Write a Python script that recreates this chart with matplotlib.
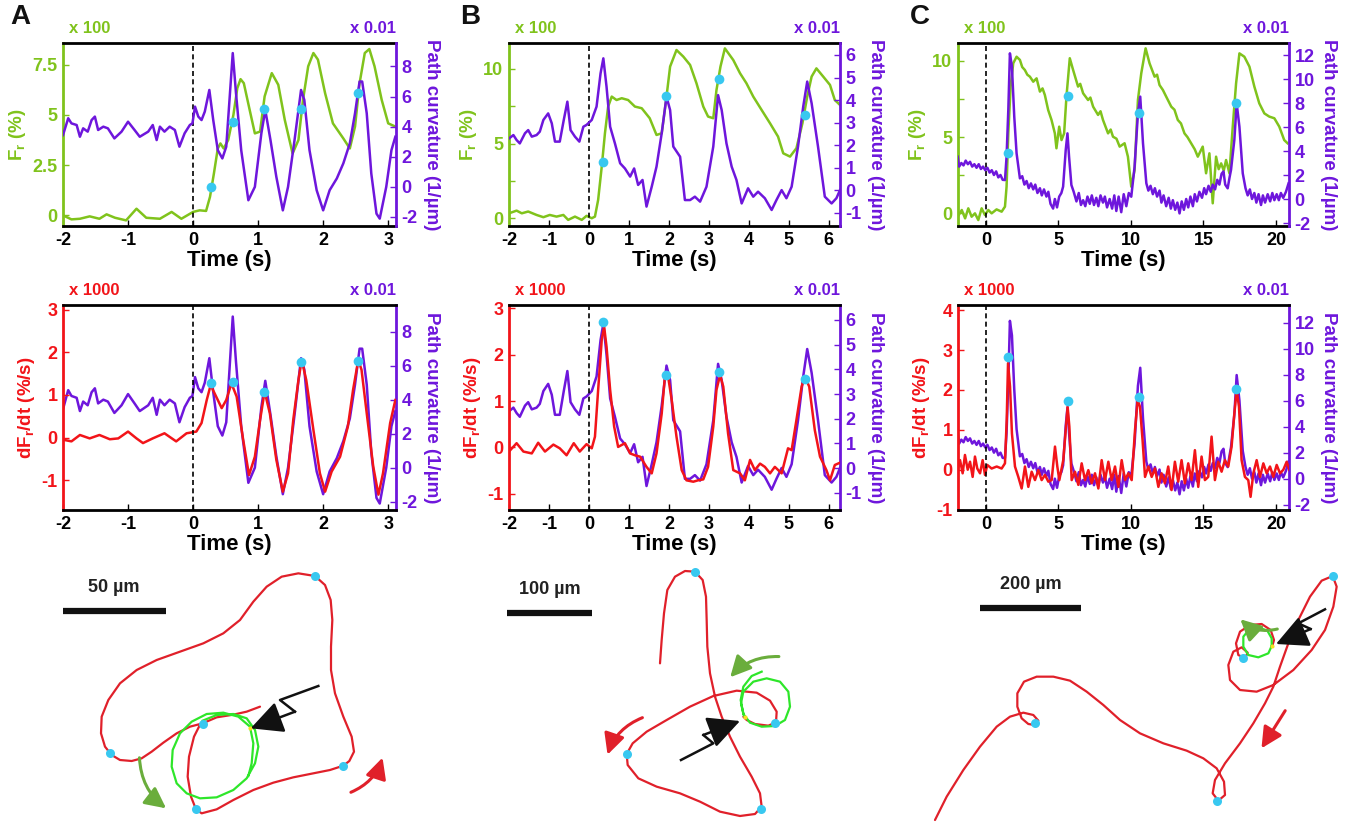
import matplotlib
matplotlib.use('Agg')
import matplotlib.pyplot as plt
from matplotlib.patches import FancyArrowPatch
from matplotlib.ticker import MultipleLocator

plt.rcParams.update({
    'font.family': 'Liberation Sans',
    'font.weight': 'bold',
    'axes.labelweight': 'bold',
    'mathtext.fontset': 'custom',
    'mathtext.rm': 'Liberation Sans:bold',
    'mathtext.it': 'Liberation Sans:bold',
    'mathtext.bf': 'Liberation Sans:bold',
    'mathtext.default': 'bf',
})

GREEN = '#80c31c'
PURPLE = '#6e16dc'
RED = '#f21419'
CYAN = '#38c8f0'
TRACK = '#e0202a'
RING = '#2ee62a'
OLIVE = '#6aad3c'

# ---- A : (time s, value) ----
a_fr = [(-2.0, 0.0), (-1.87, -0.2), (-1.74, -0.17), (-1.59, -0.05), (-1.44, -0.17), (-1.33, 0.05),
        (-1.2, -0.12), (-1.03, -0.25), (-0.87, 0.33), (-0.72, -0.12), (-0.51, -0.17), (-0.33, 0.17),
        (-0.18, -0.17), (0.0, 0.17), (0.1, 0.25), (0.2, 0.22), (0.26, 0.92), (0.32, 2.08), (0.38, 3.33),
        (0.42, 3.58), (0.47, 3.33), (0.54, 3.75), (0.62, 5.0), (0.68, 6.33), (0.73, 6.78), (0.78, 6.58),
        (0.87, 5.25), (0.95, 4.08), (1.03, 4.17), (1.1, 5.92), (1.21, 7.08), (1.31, 6.5), (1.41, 4.75),
        (1.53, 3.08), (1.62, 3.75), (1.69, 5.75), (1.77, 7.42), (1.85, 8.08), (1.92, 7.75), (2.03, 6.08),
        (2.15, 4.58), (2.31, 3.83), (2.41, 3.33), (2.49, 4.42), (2.56, 6.58), (2.64, 8.08), (2.71, 8.28),
        (2.79, 7.42), (2.9, 5.75), (3.0, 4.58), (3.11, 4.42)]
a_curv = [(-2.0, 3.44), (-1.92, 4.56), (-1.87, 4.22), (-1.79, 4.11), (-1.74, 3.33), (-1.69, 3.89),
          (-1.62, 3.67), (-1.56, 4.44), (-1.51, 4.67), (-1.46, 3.78), (-1.38, 4.0), (-1.31, 3.89),
          (-1.21, 3.22), (-1.1, 3.67), (-1.0, 4.33), (-0.9, 3.78), (-0.82, 3.33), (-0.69, 3.67),
          (-0.62, 4.11), (-0.56, 3.11), (-0.51, 4.0), (-0.44, 3.67), (-0.36, 4.0), (-0.28, 3.78),
          (-0.21, 2.67), (-0.13, 3.56), (-0.05, 4.11), (-0.01, 4.22), (0.03, 5.33), (0.08, 4.67),
          (0.13, 4.44), (0.18, 5.0), (0.25, 6.44), (0.31, 4.44), (0.38, 2.44), (0.45, 1.89), (0.51, 2.67),
          (0.56, 5.78), (0.61, 8.89), (0.66, 6.22), (0.74, 2.44), (0.85, -0.89), (0.95, 0.0), (1.05, 3.56),
          (1.11, 5.11), (1.19, 3.11), (1.28, 0.67), (1.38, -1.56), (1.46, 0.0), (1.56, 3.11), (1.66, 6.44),
          (1.71, 5.78), (1.79, 2.44), (1.9, -0.22), (2.0, -1.56), (2.1, -0.22), (2.21, 0.56), (2.31, 1.56),
          (2.41, 2.89), (2.49, 4.89), (2.56, 7.0), (2.6, 7.0), (2.67, 4.89), (2.74, 0.89), (2.82, -1.78),
          (2.87, -2.11), (2.97, 0.0), (3.05, 2.44), (3.11, 3.33)]
a_dfr = [(-2.0, -0.05), (-1.87, -0.09), (-1.74, 0.06), (-1.59, -0.02), (-1.44, 0.06), (-1.28, -0.04),
         (-1.15, -0.02), (-1.0, 0.14), (-0.87, -0.02), (-0.77, -0.13), (-0.62, -0.02), (-0.44, 0.1),
         (-0.26, -0.09), (-0.1, 0.1), (0.05, 0.14), (0.13, 0.34), (0.21, 0.88), (0.27, 1.23), (0.33, 1.04),
         (0.44, 0.69), (0.51, 0.88), (0.59, 1.27), (0.67, 0.96), (0.77, -0.05), (0.86, -0.88), (0.95, -0.45),
         (1.03, 0.41), (1.1, 1.08), (1.18, 0.57), (1.28, -0.52), (1.38, -1.27), (1.46, -0.84), (1.54, 0.41),
         (1.62, 1.35), (1.67, 1.82), (1.74, 1.35), (1.85, 0.18), (1.95, -0.84), (2.03, -1.27), (2.13, -0.8),
         (2.26, -0.45), (2.38, 0.26), (2.46, 1.12), (2.54, 1.82), (2.59, 1.59), (2.67, 0.57), (2.77, -0.68),
         (2.85, -1.34), (2.92, -0.84), (3.03, 0.34), (3.11, 0.88)]
a_dot_t = [0.27, 0.61, 1.09, 1.66, 2.54]
a_dot_fr = [1.42, 4.67, 5.3, 5.3, 6.08]
a_dot_dfr = [1.27, 1.31, 1.08, 1.78, 1.8]

# ---- B ----
b_fr = [(-2.0, 0.33), (-1.81, 0.51), (-1.68, 0.33), (-1.52, 0.45), (-1.31, 0.22), (-1.14, 0.07),
        (-0.98, 0.22), (-0.81, 0.11), (-0.64, 0.22), (-0.52, -0.11), (-0.35, 0.11), (-0.18, -0.11),
        (-0.06, 0.16), (0.07, 0.0), (0.15, 0.11), (0.23, 1.23), (0.32, 3.46), (0.4, 5.69), (0.48, 7.48),
        (0.57, 8.15), (0.69, 7.92), (0.82, 8.04), (0.98, 7.92), (1.15, 7.48), (1.32, 7.37), (1.52, 6.7),
        (1.69, 5.58), (1.82, 5.69), (1.93, 7.92), (2.03, 10.16), (2.19, 11.27), (2.36, 10.83),
        (2.53, 10.27), (2.69, 9.04), (2.86, 7.48), (2.98, 6.81), (3.11, 6.7), (3.19, 8.59), (3.29, 10.16),
        (3.4, 11.38), (3.61, 10.6), (3.78, 9.71), (3.94, 9.04), (4.11, 8.15), (4.32, 7.25), (4.53, 6.36),
        (4.73, 5.47), (4.86, 4.35), (5.03, 4.13), (5.19, 4.69), (5.34, 6.36), (5.46, 8.15), (5.57, 9.49),
        (5.69, 10.04), (5.86, 9.49), (6.03, 8.93), (6.15, 7.92), (6.28, 7.59)]
b_curv = [(-2.0, 2.3), (-1.89, 2.45), (-1.81, 2.23), (-1.73, 2.08), (-1.6, 2.53), (-1.52, 2.67),
          (-1.43, 2.38), (-1.31, 2.45), (-1.23, 2.6), (-1.14, 3.12), (-1.02, 3.41), (-0.93, 2.97),
          (-0.85, 2.16), (-0.73, 2.16), (-0.63, 3.12), (-0.54, 3.93), (-0.46, 2.67), (-0.35, 2.38),
          (-0.24, 2.16), (-0.14, 2.82), (-0.06, 2.9), (0.07, 3.12), (0.19, 3.71), (0.29, 5.18), (0.36, 5.85),
          (0.44, 4.59), (0.53, 2.82), (0.65, 2.08), (0.78, 1.2), (0.9, 0.97), (1.03, 0.61), (1.13, 0.97),
          (1.23, 0.24), (1.34, 0.46), (1.44, -0.72), (1.57, 0.16), (1.69, 1.05), (1.82, 2.53), (1.94, 4.15),
          (2.03, 3.56), (2.11, 1.94), (2.28, 1.49), (2.4, -0.43), (2.53, -0.43), (2.65, -0.28), (2.78, -0.5),
          (2.94, 0.16), (3.11, 1.94), (3.23, 4.22), (3.32, 3.56), (3.44, 2.08), (3.57, 1.05), (3.69, 0.46),
          (3.82, -0.58), (3.98, 0.09), (4.11, -0.28), (4.23, -0.06), (4.4, -0.35), (4.57, -0.87),
          (4.69, -0.43), (4.82, 0.01), (4.94, -0.35), (5.07, 0.16), (5.23, 1.94), (5.36, 3.71), (5.46, 4.82),
          (5.57, 3.86), (5.73, 1.94), (5.9, -0.28), (6.07, -0.58), (6.19, -0.35), (6.28, 0.01)]
b_dfr = [(-2.0, -0.09), (-1.81, 0.09), (-1.64, -0.09), (-1.43, -0.13), (-1.27, 0.1), (-1.1, -0.09),
         (-0.89, 0.06), (-0.73, -0.02), (-0.56, -0.17), (-0.38, 0.09), (-0.23, -0.09), (-0.06, 0.07),
         (0.07, -0.02), (0.15, 0.23), (0.23, 1.24), (0.32, 2.32), (0.38, 2.6), (0.44, 2.17), (0.53, 1.24),
         (0.63, 0.45), (0.73, 0.01), (0.9, 0.09), (1.03, -0.13), (1.15, -0.17), (1.28, -0.2), (1.44, -0.42),
         (1.57, -0.56), (1.69, -0.13), (1.82, 0.73), (1.9, 1.53), (1.98, 1.53), (2.07, 1.02), (2.19, 0.23),
         (2.32, -0.49), (2.44, -0.71), (2.61, -0.74), (2.73, -0.71), (2.86, -0.69), (2.98, -0.42),
         (3.11, 0.45), (3.19, 1.24), (3.28, 1.56), (3.36, 1.31), (3.48, 0.3), (3.61, -0.49), (3.78, -0.56),
         (3.9, -0.71), (4.03, -0.27), (4.15, -0.49), (4.28, -0.35), (4.4, -0.42), (4.53, -0.56),
         (4.65, -0.42), (4.82, -0.56), (4.98, -0.02), (5.07, -0.06), (5.19, 0.59), (5.32, 1.31), (5.4, 1.53),
         (5.51, 1.31), (5.65, 0.37), (5.78, -0.2), (5.94, -0.49), (6.03, -0.71), (6.15, -0.38), (6.28, -0.33)]
b_dot_t = [0.35, 1.93, 3.25, 5.4]
b_dot_fr = [3.79, 8.19, 9.3, 6.92]
b_dot_dfr = [2.71, 1.55, 1.62, 1.47]

# ---- C ----
c_fr = [(-1.95, -0.22), (-1.67, 0.22), (-1.44, -0.33), (-1.22, 0.33), (-0.99, -0.22), (-0.76, 0.0),
        (-0.53, -0.44), (-0.3, 0.33), (-0.07, -0.11), (0.16, 0.22), (0.39, 0.0), (0.73, 0.26), (1.08, 0.11),
        (1.31, 0.44), (1.42, 1.75), (1.54, 5.25), (1.7, 8.32), (1.88, 9.85), (2.11, 10.28), (2.34, 10.07),
        (2.5, 9.6), (2.68, 9.41), (2.85, 9.1), (3.03, 8.97), (3.26, 8.64), (3.49, 8.86), (3.72, 7.99),
        (3.9, 8.2), (4.06, 7.77), (4.29, 6.78), (4.52, 6.13), (4.75, 5.25), (4.86, 4.27), (5.05, 5.69),
        (5.21, 4.81), (5.39, 5.25), (5.55, 7.66), (5.78, 10.18), (6.01, 9.41), (6.35, 8.32), (6.5, 8.5),
        (6.7, 7.88), (7.04, 7.44), (7.2, 7.6), (7.39, 7.0), (7.73, 6.46), (7.9, 6.7), (8.07, 6.13),
        (8.42, 5.25), (8.6, 5.5), (8.76, 5.03), (9.0, 4.9), (9.22, 4.38), (9.56, 4.6), (9.79, 3.72),
        (10.02, 1.75), (10.25, 2.84), (10.48, 7.44), (10.71, 9.19), (11.01, 10.83), (11.28, 9.85),
        (11.63, 8.97), (11.8, 9.1), (11.97, 8.42), (12.2, 8.1), (12.43, 7.66), (12.78, 7.0), (13.0, 6.8),
        (13.23, 6.13), (13.45, 5.9), (13.69, 5.25), (13.9, 5.0), (14.15, 4.6), (14.4, 4.2), (14.61, 3.72),
        (14.95, 4.38), (15.18, 2.63), (15.41, 3.94), (15.64, 0.66), (15.87, 3.72), (16.05, 2.9),
        (16.22, 3.28), (16.4, 2.8), (16.56, 3.5), (16.79, 2.63), (17.02, 5.69), (17.25, 8.53), (17.48, 10.5),
        (17.82, 10.28), (18.17, 9.63), (18.51, 8.32), (18.85, 7.22), (19.2, 6.56), (19.54, 6.35),
        (19.89, 6.24), (20.23, 5.69), (20.57, 4.81), (20.8, 4.6)]
c_curv = [(-1.95, 3.53), (-1.85, 2.7), (-1.7, 3.0), (-1.55, 2.8), (-1.4, 3.2), (-1.25, 2.9), (-1.1, 3.1),
          (-0.95, 2.7), (-0.8, 2.9), (-0.65, 2.6), (-0.5, 2.9), (-0.35, 2.5), (-0.2, 2.7), (-0.05, 2.4),
          (0.1, 2.6), (0.25, 2.2), (0.4, 2.4), (0.55, 2.0), (0.7, 2.3), (0.85, 1.8), (1.0, 2.0), (1.15, 1.6),
          (1.31, 1.58), (1.42, 3.53), (1.54, 7.42), (1.65, 12.14), (1.79, 11.03), (1.95, 6.86), (2.11, 3.81),
          (2.34, 1.72), (2.5, 1.9), (2.65, 1.2), (2.8, 1.5), (2.95, 0.9), (3.1, 1.3), (3.26, 0.8), (3.4, 1.2),
          (3.55, 0.5), (3.72, 0.9), (3.85, 0.3), (4.0, 0.8), (4.17, 0.2), (4.3, 0.6), (4.45, -0.4),
          (4.63, -0.8), (4.75, 0.0), (4.9, -0.7), (5.05, 0.2), (5.2, 0.5), (5.32, 1.03), (5.5, 4.08),
          (5.62, 5.47), (5.73, 3.53), (5.89, 1.17), (6.05, 0.6), (6.24, -0.2), (6.4, 0.5), (6.55, -0.5),
          (6.7, -0.1), (6.85, -0.6), (7.0, 0.2), (7.16, -0.4), (7.3, 0.3), (7.45, -0.5), (7.61, 0.1),
          (7.75, -0.6), (7.9, 0.3), (8.07, -0.3), (8.2, 0.2), (8.35, -0.7), (8.53, 0.0), (8.7, -0.8),
          (8.85, 0.3), (8.99, -1.0), (9.15, 0.2), (9.33, -1.1), (9.5, 0.4), (9.68, -0.6), (9.85, 0.5),
          (10.02, 0.19), (10.25, 2.69), (10.48, 7.14), (10.64, 8.53), (10.83, 4.64), (11.06, 1.31),
          (11.2, 0.7), (11.35, 1.1), (11.51, 0.4), (11.65, 0.9), (11.8, 0.2), (11.97, 0.7), (12.1, -0.3),
          (12.25, 0.3), (12.43, -0.6), (12.6, 0.1), (12.75, -0.8), (12.89, -0.1), (13.05, -0.9),
          (13.2, -0.3), (13.35, -1.2), (13.5, -0.2), (13.65, -0.9), (13.81, 0.0), (13.95, -0.7), (14.1, 0.2),
          (14.27, -0.6), (14.4, 0.4), (14.55, -0.2), (14.72, 0.6), (14.9, 0.1), (15.05, 0.9), (15.18, 0.4),
          (15.35, 1.1), (15.5, 0.6), (15.64, 1.2), (15.8, 0.8), (15.95, 1.6), (16.1, 1.2), (16.25, 2.1),
          (16.38, 2.3), (16.5, 1.2), (16.67, 0.89), (16.8, 1.8), (16.9, 2.42), (17.13, 4.92), (17.29, 7.97),
          (17.48, 6.03), (17.71, 2.14), (17.9, 0.9), (18.05, 0.3), (18.2, 0.8), (18.35, 0.0), (18.51, 0.5),
          (18.65, -0.3), (18.8, 0.4), (18.97, -0.5), (19.1, 0.3), (19.25, -0.3), (19.43, 0.4), (19.6, -0.2),
          (19.75, 0.5), (19.89, -0.1), (20.05, 0.4), (20.2, -0.1), (20.34, 0.5), (20.5, 0.1), (20.69, 0.6),
          (20.87, 1.31)]
c_dfr = [(-1.95, 0.0), (-1.79, 0.24), (-1.61, -0.09), (-1.45, 0.37), (-1.26, 0.0), (-1.1, 0.2),
         (-0.92, -0.18), (-0.76, 0.33), (-0.6, 0.03), (-0.41, -0.09), (-0.23, 0.24), (-0.07, -0.13),
         (0.09, 0.12), (0.39, 0.03), (0.74, 0.08), (1.08, 0.03), (1.31, 0.16), (1.43, 1.25), (1.52, 2.67),
         (1.66, 2.08), (1.79, 0.91), (2.0, 0.08), (2.23, -0.18), (2.46, -0.47), (2.69, 0.08), (2.92, -0.43),
         (3.15, -0.05), (3.38, -0.26), (3.61, -0.01), (3.84, -0.26), (4.07, -0.13), (4.3, -0.3),
         (4.53, -0.26), (4.76, 0.58), (4.92, 0.08), (5.06, -0.26), (5.33, 0.24), (5.52, 1.08), (5.63, 1.58),
         (5.75, 1.08), (5.91, -0.26), (6.14, -0.05), (6.37, -0.38), (6.6, 0.16), (6.83, -0.26), (7.06, -0.01),
         (7.29, -0.34), (7.52, -0.09), (7.75, -0.47), (7.98, 0.24), (8.21, -0.26), (8.44, 0.2), (8.67, -0.26),
         (8.9, 0.08), (9.13, -0.43), (9.36, 0.24), (9.59, -0.26), (9.82, -0.09), (10.05, -0.26), (10.28, 1.0),
         (10.46, 1.75), (10.62, 1.58), (10.8, 0.74), (10.97, -0.18), (11.2, 0.08), (11.43, -0.18),
         (11.66, 0.03), (11.89, -0.43), (12.11, -0.09), (12.34, -0.34), (12.57, 0.08), (12.8, -0.51),
         (13.03, 0.2), (13.26, -0.3), (13.49, 0.24), (13.72, -0.34), (13.95, 0.16), (14.18, -0.26),
         (14.41, 0.49), (14.64, -0.43), (14.87, 0.33), (15.1, -0.26), (15.33, -0.18), (15.56, 0.83),
         (15.79, -0.26), (16.02, 0.2), (16.25, -0.05), (16.48, 0.24), (16.71, 0.08), (16.94, 0.58),
         (17.13, 1.41), (17.29, 2.0), (17.45, 1.58), (17.63, 0.24), (17.86, -0.18), (18.09, -0.26),
         (18.25, -0.68), (18.44, -0.09), (18.67, 0.24), (18.9, -0.18), (19.13, 0.16), (19.36, -0.09),
         (19.59, 0.08), (19.82, -0.18), (20.05, 0.12), (20.28, -0.09), (20.51, 0.0), (20.74, 0.2),
         (20.92, 0.0)]
c_dot_t = [1.5, 5.64, 10.56, 17.27]
c_dot_fr = [3.94, 7.7, 6.56, 7.26]
c_dot_dfr = [2.82, 1.73, 1.83, 2.02]

# ---- trajectories (image units, y downwards) ----
a_track = [(780, 440), (740, 455), (700, 464), (650, 472), (608, 490), (570, 500), (530, 520), (490, 548),
           (455, 575), (425, 595), (395, 603), (360, 600), (335, 585), (315, 560), (303, 520), (305, 470),
           (325, 420), (360, 370), (410, 330), (470, 300), (540, 275), (610, 250), (670, 220), (720, 180),
           (760, 125), (800, 80), (845, 50), (895, 40), (945, 48), (975, 75), (992, 120), (997, 180),
           (993, 260), (993, 330), (1005, 400), (1030, 470), (1055, 530), (1062, 575), (1048, 603),
           (1030, 617), (990, 630), (940, 640), (880, 652), (820, 668), (760, 690), (700, 720), (650, 748),
           (605, 760), (588, 748), (573, 710), (563, 650), (567, 590), (582, 530), (597, 500), (608, 492)]
a_ring = [(608, 482), (650, 465), (700, 462), (740, 475), (765, 510), (775, 560), (765, 610), (740, 655),
          (700, 690), (650, 712), (600, 715), (560, 700), (530, 670), (515, 620), (518, 570), (540, 520),
          (575, 485), (620, 462), (670, 458), (715, 470), (750, 500), (760, 550), (755, 610), (745, 648)]
a_marks = [(945, 48), (608, 492), (330, 578), (1030, 617), (588, 748)]

b_track = [(630, 310), (635, 240), (642, 160), (652, 90), (675, 50), (705, 33), (735, 35), (758, 60),
           (768, 110), (770, 180), (772, 260), (780, 340), (795, 410), (815, 470), (840, 530), (870, 590),
           (905, 650), (930, 700), (935, 740), (915, 762), (870, 768), (810, 755), (750, 725), (690, 700),
           (620, 680), (565, 655), (533, 615), (530, 582), (548, 550), (590, 515), (650, 480), (720, 440),
           (790, 408), (860, 392), (920, 398), (960, 422), (980, 455), (978, 487), (955, 497), (915, 492),
           (890, 480), (880, 470)]
b_ring = [(882, 468), (873, 430), (880, 395), (910, 365), (950, 355), (990, 365), (1015, 395), (1020, 440),
          (1005, 480), (975, 498), (935, 500), (900, 488), (880, 462), (872, 420), (880, 380), (905, 348),
          (935, 335)]
b_marks = [(735, 35), (975, 488), (932, 748), (530, 582)]

c_track = [(105, 780), (140, 710), (190, 630), (240, 560), (290, 500), (330, 470), (370, 458), (400, 465),
           (415, 482), (405, 495), (385, 492), (365, 475), (352, 440), (352, 400), (372, 365), (410, 350),
           (460, 350), (510, 362), (560, 395), (610, 435), (660, 480), (720, 520), (790, 550), (860, 572),
           (910, 595), (950, 625), (972, 665), (975, 705), (955, 722), (938, 700), (945, 660), (975, 610),
           (1020, 550), (1060, 490), (1095, 430), (1120, 380), (1140, 320), (1165, 250), (1195, 180),
           (1230, 110), (1265, 62), (1298, 48), (1310, 80), (1300, 140), (1275, 210), (1235, 270),
           (1180, 330), (1120, 375), (1070, 395), (1020, 390), (990, 360), (985, 315), (1000, 275),
           (1025, 262), (1043, 278), (1035, 295), (1015, 285), (1008, 250), (1020, 215), (1050, 195),
           (1085, 192), (1112, 210), (1122, 240), (1117, 258)]
c_ring = [(1115, 258), (1105, 280), (1075, 292), (1045, 285), (1030, 260), (1030, 230), (1048, 208),
          (1075, 202), (1102, 212), (1115, 235), (1115, 258)]
c_marks = [(405, 490), (950, 722), (1298, 48), (1030, 293)]

W, H = 1352, 823


def rect(x0, y0, x1, y1):
    return [x0 / W, 1 - y1 / H, (x1 - x0) / W, (y1 - y0) / H]


def trace_panel(box, xlim, xticks, left, right, dots, lcol, llabel, lscale, signal_on_top):
    lpairs, lylim, lticks, llabels, lminor = left
    rpairs, rylim, rticks = right
    ax = fig.add_axes(box)
    ax2 = ax.twinx()
    t, v = zip(*lpairs)
    ax.plot(t, v, color=lcol, lw=1.8)
    t, v = zip(*rpairs)
    ax2.plot(t, v, color=PURPLE, lw=1.8)
    ax.axvline(0, color='k', ls=(0, (3, 2)), lw=1.2)
    if signal_on_top:
        ax.set_zorder(ax2.get_zorder() + 1)
        ax.patch.set_visible(False)
        ax.plot(dots[0], dots[1], 'o', color=CYAN, ms=7, mec='none', zorder=5)
    else:
        ax2.plot(dots[0], dots[1], 'o', color=CYAN, ms=7, mec='none', zorder=5,
                 transform=ax.transData)
    ax.set_xlim(xlim)
    ax.set_xticks(xticks)
    ax.set_xticklabels([str(x) for x in xticks])
    ax.set_ylim(lylim)
    ax.set_yticks(lticks)
    ax.set_yticklabels(llabels)
    if lminor:
        ax.yaxis.set_minor_locator(MultipleLocator(lminor))
    ax2.set_ylim(rylim)
    ax2.set_yticks(rticks)
    ax2.set_yticklabels([str(r) for r in rticks])

    for s in ('top', 'bottom'):
        ax.spines[s].set_linewidth(2)
        ax.spines[s].set_color('k')
    ax.spines['left'].set_color(lcol)
    ax.spines['left'].set_linewidth(2)
    ax.spines['right'].set_visible(False)
    for s in ('top', 'bottom', 'left'):
        ax2.spines[s].set_visible(False)
    ax2.spines['right'].set_color(PURPLE)
    ax2.spines['right'].set_linewidth(2)

    ax.tick_params(axis='x', direction='in', length=4, width=1, labelsize=13, pad=4, top=False)
    ax.tick_params(axis='y', which='both', direction='in', length=4, width=1, colors=lcol,
                   labelsize=13, pad=4)
    ax2.tick_params(axis='y', direction='in', length=4, width=1, colors=PURPLE, labelsize=13, pad=4)

    ax.set_xlabel('Time (s)', fontsize=16, labelpad=1)
    ax.set_ylabel(llabel, color=lcol, fontsize=13.5, labelpad=3)
    ax2.set_ylabel('Path curvature (1/µm)', color=PURPLE, fontsize=13.5, rotation=270,
                   va='bottom', labelpad=4)
    ax.annotate(lscale, xy=(0, 1), xycoords='axes fraction', xytext=(4, 5),
                textcoords='offset points', ha='left', va='bottom', color=lcol, fontsize=12)
    ax.annotate('x 0.01', xy=(1, 1), xycoords='axes fraction', xytext=(0, 5),
                textcoords='offset points', ha='right', va='bottom', color=PURPLE, fontsize=12)
    return ax


def track_panel(box, width, track, ring, marks, bar, bar_text, arrows, bolt, spot):
    ax = fig.add_axes(box)
    ax.set_xlim(0, width)
    ax.set_ylim(789, 0)
    ax.axis('off')
    x, y = zip(*track)
    ax.plot(x, y, color=TRACK, lw=1.6, solid_capstyle='round', zorder=2)
    x, y = zip(*ring)
    ax.plot(x, y, color=RING, lw=1.6, zorder=3)
    ax.plot([spot[0]], [spot[1]], 'o', color='#f5e020', ms=3, mec='none', zorder=4)
    x, y = zip(*marks)
    ax.plot(x, y, 'o', color=CYAN, ms=6.5, mec='none', zorder=5)
    ax.plot(bar[:2], [bar[2], bar[2]], color='#111111', lw=4.5, solid_capstyle='butt')
    ax.text((bar[0] + bar[1]) / 2, bar[2] - 45, bar_text, ha='center', va='bottom', fontsize=13,
            color='#222222')
    for p0, p1, rad, col in arrows:
        ax.add_patch(FancyArrowPatch(p0, p1, connectionstyle='arc3,rad=%s' % rad,
                                     arrowstyle='-|>,head_length=0.7,head_width=0.35',
                                     mutation_scale=18, lw=2.2, color=col, zorder=6))
    x, y = zip(*bolt[:-1])
    ax.plot(x, y, color='#111111', lw=1.8, zorder=6)
    ax.add_patch(FancyArrowPatch(bolt[-2], bolt[-1], arrowstyle='-|>,head_length=0.9,head_width=0.45',
                                 mutation_scale=22, lw=1.8, color='#111111', zorder=7,
                                 shrinkA=0, shrinkB=0))


fig = plt.figure(figsize=(W / 100, H / 100), dpi=100)

frl = 'F$_r$ (%)'
dfl = 'dF$_r$/dt (%/s)'

trace_panel(rect(63, 43, 396, 226), (-2, 3.12), [-2, -1, 0, 1, 2, 3],
            (a_fr, (-0.53, 8.58), [0, 2.5, 5, 7.5], ['0', '2.5', '5', '7.5'], None),
            (a_curv, (-2.6, 9.56), [-2, 0, 2, 4, 6, 8]),
            (a_dot_t, a_dot_fr), GREEN, frl, 'x 100', False)
trace_panel(rect(63, 305, 396, 510), (-2, 3.12), [-2, -1, 0, 1, 2, 3],
            (a_dfr, (-1.7, 3.11), [-1, 0, 1, 2, 3], ['-1', '0', '1', '2', '3'], None),
            (a_curv, (-2.49, 9.57), [-2, 0, 2, 4, 6, 8]),
            (a_dot_t, a_dot_dfr), RED, dfl, 'x 1000', True)

trace_panel(rect(509, 43, 840, 226), (-2, 6.28), [-2, -1, 0, 1, 2, 3, 4, 5, 6],
            (b_fr, (-0.52, 11.74), [0, 5, 10], ['0', '5', '10'], 2.5),
            (b_curv, (-1.58, 6.53), [-1, 0, 1, 2, 3, 4, 5, 6]),
            (b_dot_t, b_dot_fr), GREEN, frl, 'x 100', False)
trace_panel(rect(509, 305, 840, 510), (-2, 6.28), [-2, -1, 0, 1, 2, 3, 4, 5, 6],
            (b_dfr, (-1.35, 3.07), [-1, 0, 1, 2, 3], ['-1', '0', '1', '2', '3'], None),
            (b_curv, (-1.69, 6.6), [-1, 0, 1, 2, 3, 4, 5, 6]),
            (b_dot_t, b_dot_dfr), RED, dfl, 'x 1000', True)

trace_panel(rect(958, 43, 1289, 226), (-1.93, 20.9), [0, 5, 10, 15, 20],
            (c_fr, (-0.83, 11.18), [0, 5, 10], ['0', '5', '10'], 2.5),
            (c_curv, (-2.25, 13.0), [-2, 0, 2, 4, 6, 8, 10, 12]),
            (c_dot_t, c_dot_fr), GREEN, frl, 'x 100', False)
trace_panel(rect(958, 305, 1289, 510), (-1.93, 20.9), [0, 5, 10, 15, 20],
            (c_dfr, (-1.01, 4.13), [-1, 0, 1, 2, 3, 4], ['-1', '0', '1', '2', '3', '4'], None),
            (c_curv, (-2.41, 13.36), [-2, 0, 2, 4, 6, 8, 10, 12]),
            (c_dot_t, c_dot_dfr), RED, dfl, 'x 1000', True)

track_panel(rect(0, 560, 450, 823), 1350, a_track, a_ring, a_marks, (188, 497, 153), '50 µm',
            [((418, 585), (505, 750), 0.25, OLIVE), ((1045, 700), (1150, 585), 0.25, TRACK)],
            [(955, 378), (840, 420), (885, 455), (752, 505)], (750, 505))
track_panel(rect(450, 560, 900, 823), 1350, b_track, b_ring, b_marks, (172, 425, 158), '100 µm',
            [((585, 470), (470, 592), 0.25, TRACK), ((995, 290), (835, 358), 0.25, OLIVE)],
            [(693, 600), (790, 550), (760, 525), (870, 483)], (884, 470))
track_panel(rect(900, 560, 1352, 823), 1356, c_track, c_ring, c_marks, (240, 542, 145), '200 µm',
            [((1160, 445), (1080, 572), 0.0, TRACK), ((1140, 205), (1015, 172), -0.3, OLIVE)],
            [(1275, 148), (1195, 190), (1232, 207), (1128, 252)], (1116, 258))

for letter, x in (('A', 10), ('B', 460), ('C', 910)):
    fig.text(x / W, 1 - 17 / H, letter, fontsize=20, va='center', ha='left', color='#111111')

fig.savefig('out.png', dpi=100)
